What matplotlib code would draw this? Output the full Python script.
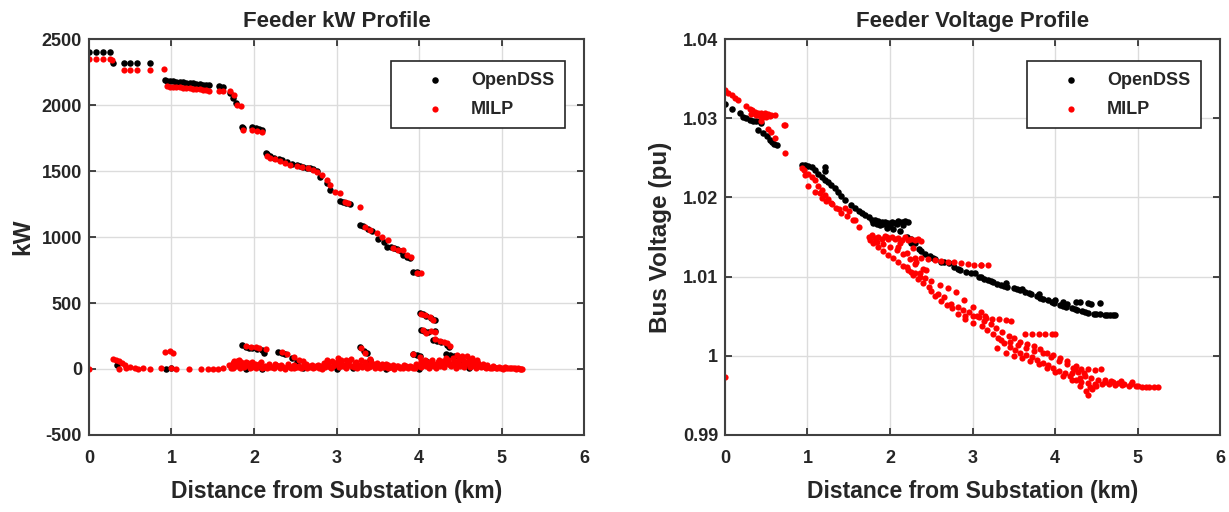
import matplotlib
matplotlib.use("Agg")
import matplotlib.pyplot as plt

plt.rcParams['font.family'] = ['Liberation Sans', 'DejaVu Sans']
plt.rcParams['font.weight'] = 'bold'

# ---- Feeder kW profile ----
kw_dss_x = [0.0, 0.09, 0.17, 0.25, 0.29, 0.42, 0.50, 0.58, 0.74,
            0.92, 0.95, 0.98, 1.02, 1.06, 1.10, 1.14, 1.18, 1.22, 1.26, 1.30, 1.34, 1.38, 1.42, 1.46,
            1.58, 1.62, 1.71, 1.75, 1.78, 1.85, 1.87, 1.98, 2.02, 2.06, 2.10,
            2.14, 2.16, 2.19, 2.24, 2.30, 2.34, 2.40, 2.46, 2.52, 2.56, 2.60, 2.64, 2.68, 2.72, 2.76,
            2.80, 2.88, 2.92, 3.04, 3.08, 3.12, 3.16, 3.28, 3.32, 3.38, 3.43, 3.50, 3.58,
            3.61, 3.66, 3.70, 3.73, 3.78, 3.81, 3.86, 3.89, 3.93, 3.97, 3.99,
            4.01, 4.05, 4.08, 4.15, 4.19, 4.03, 4.06, 4.11, 4.19, 4.17, 4.22, 4.27, 4.34, 4.36,
            4.33, 4.37, 4.42, 3.28, 3.33, 3.37, 3.41, 3.93, 3.97, 4.01, 4.09,
            1.85, 1.90, 1.94, 1.98, 2.04, 2.10, 2.12, 2.29, 2.34, 2.38, 2.46, 2.52,
            0.34, 0.93, 1.00, 1.90, 2.10, 2.60, 3.00, 3.20, 3.60, 4.00, 4.30, 4.50, 4.60]
kw_dss_y = [2405, 2405, 2405, 2405, 2320, 2322, 2322, 2322, 2318,
            2190, 2185, 2183, 2180, 2178, 2175, 2172, 2170, 2168, 2165, 2160, 2158, 2155, 2152, 2150,
            2142, 2140, 2090, 2052, 2018, 1832, 1828, 1832, 1826, 1822, 1812,
            1634, 1626, 1612, 1600, 1588, 1582, 1566, 1552, 1545, 1535, 1530, 1526, 1520, 1514, 1502,
            1455, 1410, 1358, 1276, 1268, 1260, 1250, 1092, 1082, 1060, 1045, 985, 960,
            924, 924, 920, 908, 895, 865, 850, 840, 738, 733, 730,
            426, 418, 405, 385, 370, 296, 290, 280, 286, 222, 214, 205, 184, 170,
            115, 108, 95, 165, 140, 120, 70, 115, 105, 95, 62,
            180, 165, 162, 160, 152, 145, 122, 130, 118, 112, 86, 55,
            30, 2, 5, 2, 2, 5, 3, 10, 3, 2, 30, 40, 5]

kw_milp_x = [0.0, 0.09, 0.17, 0.25, 0.28, 0.42, 0.50, 0.58, 0.74, 0.91,
             0.95, 0.98, 1.02, 1.06, 1.10, 1.14, 1.18, 1.22, 1.26, 1.30, 1.34, 1.38, 1.42, 1.46,
             1.58, 1.62, 1.71, 1.76, 1.79, 1.84, 1.87, 1.98, 2.04, 2.10,
             2.16, 2.20, 2.26, 2.32, 2.38, 2.44, 2.52, 2.58, 2.66, 2.72, 2.76, 2.82, 2.88, 2.92,
             2.98, 3.04, 3.10, 3.14, 3.28, 3.35, 3.41, 3.49, 3.55, 3.63, 3.68, 3.74, 3.80, 3.85,
             3.90, 3.97, 4.03, 4.03, 4.07, 4.13, 4.17, 4.05, 4.09, 4.15, 4.19,
             4.19, 4.25, 4.30, 4.34, 4.37, 3.30, 3.35, 3.40, 3.93, 4.01, 4.07, 4.12,
             0.92, 0.98, 1.02, 1.90, 1.96, 2.02, 2.06, 2.14, 2.34, 2.40, 2.48, 2.55, 2.60,
             0.0, 0.29, 0.33, 0.36, 0.40, 0.44, 0.50, 0.36, 0.45, 0.56, 0.60, 0.66, 0.74, 0.87,
             0.99, 1.05, 1.21, 1.36, 1.44, 1.50, 1.56, 1.62, 1.70, 1.76, 1.82, 1.90, 1.98,
             4.46, 4.52, 4.58, 4.64, 4.70]
kw_milp_y = [2345, 2345, 2345, 2345, 2338, 2268, 2268, 2268, 2265, 2272,
             2142, 2140, 2138, 2136, 2134, 2130, 2128, 2126, 2124, 2120, 2118, 2115, 2112, 2108,
             2108, 2104, 2105, 2075, 2000, 1992, 1812, 1812, 1806, 1795,
             1610, 1598, 1588, 1575, 1560, 1548, 1540, 1528, 1520, 1508, 1490, 1470, 1435, 1395,
             1343, 1336, 1262, 1255, 1225, 1078, 1053, 1028, 1000, 980, 918, 905, 900, 860,
             845, 728, 727, 420, 410, 392, 372, 292, 276, 285, 278,
             228, 212, 202, 198, 178, 160, 118, 75, 112, 92, 68, 50,
             131, 133, 123, 175, 170, 166, 158, 150, 125, 115, 92, 70, 60,
             0, 73, 68, 63, 43, 30, 13, 3, 5, 8, 3, 8, 3, 6,
             8, 3, 3, 2, 2, 2, 2, 4, 30, 63, 68, 55, 55,
             105, 100, 95, 85, 70]

# low-power buses (laterals) for MILP, 1.7-5.25 km
kw_milp_low_x = [1.72, 1.75, 1.78, 1.80, 1.83, 1.86, 1.88, 1.92, 1.95, 2.00, 2.03, 2.06, 2.10, 2.13,
                 2.16, 2.20, 2.24, 2.27, 2.31, 2.35, 2.38, 2.42, 2.45, 2.49, 2.53, 2.57, 2.61, 2.64,
                 2.68, 2.72, 2.75, 2.79, 2.83, 2.86, 2.90, 2.93, 2.96, 3.00, 3.03, 3.06, 3.09, 3.12,
                 3.15, 3.18, 3.22, 3.25, 3.28, 3.31, 3.34, 3.37, 3.40, 3.44, 3.47, 3.50, 3.53, 3.56,
                 3.60, 3.63, 3.66, 3.70, 3.73, 3.77, 3.80, 3.84, 3.87, 3.91, 3.95, 3.98, 4.02, 4.05,
                 4.08, 4.12, 4.15, 4.18, 4.21, 4.24, 4.27, 4.30, 4.33, 4.36, 4.39, 4.42, 4.45, 4.48,
                 4.51, 4.54, 4.57, 4.60, 4.63, 4.66, 4.69, 4.72, 4.75, 4.78, 4.81, 4.84, 4.88, 4.91,
                 4.95, 4.98, 5.02, 5.06, 5.10, 5.14, 5.18, 5.22, 5.25,
                 1.74, 1.79, 1.84, 1.89, 1.93, 1.97, 2.01, 2.05, 2.09, 2.12, 2.18, 2.22, 2.26, 2.29,
                 2.33, 2.37, 2.41, 2.44, 2.48, 2.51, 2.55, 2.59, 2.63, 2.67, 2.70, 2.74, 2.78, 2.81,
                 2.85, 2.89, 2.92, 2.95, 2.99, 3.02, 3.05, 3.08, 3.11, 3.14, 3.17, 3.21, 3.24, 3.27,
                 3.30, 3.33, 3.36, 3.39, 3.42, 3.46, 3.49, 3.52, 3.55, 3.58, 3.62, 3.65, 3.68, 3.71,
                 3.75, 3.79, 3.82, 3.86, 3.89, 3.93, 3.96, 4.00, 4.03, 4.06, 4.10, 4.13, 4.16, 4.20,
                 4.23, 4.26, 4.29, 4.32, 4.35, 4.38, 4.41, 4.44, 4.47, 4.50, 4.53, 4.56, 4.59, 4.62,
                 4.65, 4.68, 4.71, 4.74, 4.77, 4.80, 4.83, 4.86, 4.90, 4.93, 4.97, 5.00, 5.04, 5.08,
                 5.12, 5.16, 5.20, 5.24]
kw_milp_low_y = [10, 5, 20, 40, 8, 25, 12, 30, 8, 20, 5, 35, 10, 25,
                 4, 18, 6, 28, 8, 15, 3, 22, 10, 5, 18, 8, 30, 4,
                 12, 6, 22, 9, 3, 18, 40, 8, 25, 55, 12, 70, 30, 5,
                 60, 20, 45, 8, 30, 12, 50, 6, 25, 40, 10, 30, 5, 20,
                 35, 8, 15, 3, 25, 10, 5, 20, 8, 15, 4, 28, 12, 40,
                 20, 8, 55, 25, 10, 70, 35, 15, 80, 45, 20, 60, 8, 75,
                 30, 12, 50, 70, 25, 40, 10, 30, 15, 22, 8, 18, 5, 12,
                 6, 10, 3, 8, 4, 6, 2, 3, 2,
                 45, 60, 50, 35, 48, 15, 40, 22, 50, 14, 35, 12, 40, 20,
                 32, 10, 36, 18, 30, 12, 26, 16, 40, 22, 34, 14, 32, 20,
                 45, 65, 18, 60, 35, 80, 45, 20, 65, 38, 72, 15, 55, 22,
                 65, 28, 40, 15, 55, 22, 45, 15, 38, 12, 28, 18, 32, 12,
                 22, 15, 30, 18, 25, 10, 35, 20, 60, 30, 45, 25, 65, 40,
                 55, 20, 60, 35, 65, 30, 80, 40, 55, 20, 65, 35, 45, 15,
                 55, 25, 45, 20, 35, 15, 28, 10, 22, 8, 16, 6, 12, 5,
                 9, 4, 6, 1]

# ---- Feeder voltage profile ----
v_dss_x = [0.0, 0.08, 0.18, 0.22, 0.26, 0.30, 0.34, 0.38, 0.42, 0.44, 0.40, 0.46, 0.51, 0.54, 0.57, 0.60, 0.63,
           0.93, 0.97, 1.01, 1.05, 1.09, 1.21, 1.21, 1.13, 1.17, 1.21, 1.25, 1.29, 1.33, 1.37, 1.41, 1.45,
           1.53, 1.58, 1.62, 1.66, 1.70, 1.74, 1.78, 1.82, 1.86, 1.90, 1.94, 1.98, 2.02, 2.06, 2.10, 2.14,
           2.18, 2.22, 1.88, 1.96, 2.04, 2.12, 2.20, 2.25, 2.30, 2.35, 2.42, 2.48, 2.55, 2.62, 2.71, 2.78,
           2.85, 2.92, 3.03, 3.08, 3.14, 3.19, 3.25, 3.30, 3.35, 3.42, 3.50, 3.57, 3.64, 3.71, 3.78, 3.85,
           3.92, 3.99, 4.06, 4.13, 4.20, 4.27, 4.33, 4.40, 4.47, 4.54, 4.60, 4.67, 4.73,
           4.30, 4.40, 4.54, 4.15, 4.00, 3.80, 3.60, 3.40,
           1.80, 1.84, 1.92, 2.00, 2.08, 2.16, 2.26, 2.38, 2.52, 2.66, 2.82, 2.98, 3.10, 3.22,
           3.38, 3.54, 3.68, 3.82, 3.96, 4.10, 4.24, 4.36, 4.50, 4.63, 4.70, 4.44, 4.25, 4.10]
v_dss_y = [1.0318, 1.0312, 1.0306, 1.0302, 1.0300, 1.0298, 1.0297, 1.0297, 1.0296, 1.0294, 1.0285, 1.0281,
           1.0277, 1.0273, 1.0270, 1.0268, 1.0266,
           1.0241, 1.0241, 1.0240, 1.0238, 1.0235, 1.0239, 1.0233, 1.0230, 1.0226, 1.0222, 1.0220, 1.0216,
           1.0212, 1.0207, 1.0202, 1.0197,
           1.0190, 1.0186, 1.0183, 1.0180, 1.0178, 1.0175, 1.0172, 1.0171, 1.0170, 1.0169, 1.0169, 1.0168,
           1.0169, 1.0168, 1.0170, 1.0169, 1.0170, 1.0169, 1.0165, 1.0162, 1.0160, 1.0158, 1.0150, 1.0148,
           1.0142, 1.0135, 1.0129, 1.0126, 1.0122, 1.0119, 1.0117, 1.0112, 1.0108, 1.0106, 1.0104, 1.0100,
           1.0097, 1.0096, 1.0093, 1.0091, 1.0089, 1.0087, 1.0085, 1.0083, 1.0081, 1.0078, 1.0075, 1.0072,
           1.0070, 1.0067, 1.0064, 1.0062, 1.0060, 1.0058, 1.0056, 1.0054, 1.0053, 1.0053, 1.0052, 1.0052,
           1.0051, 1.0068, 1.0067, 1.0067, 1.0066, 1.0071, 1.0078, 1.0084, 1.0092,
           1.0168, 1.0166, 1.0166, 1.0164, 1.0166, 1.0165, 1.0142, 1.0132, 1.0124, 1.0118, 1.0110, 1.0104,
           1.0099, 1.0094, 1.0088, 1.0084, 1.0079, 1.0073, 1.0068, 1.0063, 1.0059, 1.0055, 1.0053, 1.0052,
           1.0051, 1.0066, 1.0068, 1.0068]

v_milp_x = [0.0, 0.0, 0.04, 0.08, 0.12, 0.16, 0.26, 0.30, 0.33, 0.36, 0.40, 0.44, 0.48, 0.52, 0.56,
            0.32, 0.38, 0.42, 0.46, 0.50, 0.54, 0.61, 0.71, 0.73, 0.44, 0.52, 0.56, 0.61, 0.73,
            0.93, 0.96, 1.01, 1.05, 1.09, 1.13, 1.17, 1.21, 1.25, 1.29, 1.35, 1.41, 1.48, 1.55, 1.58,
            1.62, 0.97, 1.01, 1.09, 1.17, 1.30, 1.45, 1.50,
            1.74, 1.78, 1.82, 1.86, 1.90, 1.94, 1.98, 2.02, 2.06, 2.10, 2.14, 2.18, 2.22, 2.26, 2.30,
            2.34, 2.38,
            1.80, 1.86, 1.92, 1.98, 2.04, 2.10, 2.16, 2.22, 2.28, 2.34, 2.40, 2.47, 2.55, 2.62, 2.69,
            2.75, 2.83, 2.91, 3.00, 3.11, 3.18, 3.25, 3.31, 3.38, 3.45, 3.52, 3.58, 3.65, 3.72, 3.78,
            3.85, 3.92, 3.98, 4.05, 4.12, 4.18, 4.25, 4.32, 4.40, 4.48, 4.57, 4.65, 4.73, 4.81, 4.90,
            4.98, 5.06, 5.14, 5.25,
            2.30, 2.38, 2.46, 2.54, 2.62, 2.70, 2.78, 2.86, 2.94, 3.02, 3.10, 3.19,
            2.30, 2.36, 2.42, 2.50, 2.44,
            2.91, 3.00, 3.08, 3.16, 3.24, 3.32, 3.40, 3.47,
            3.64, 3.72, 3.80, 3.88, 3.96, 4.00,
            4.24, 4.32, 4.40, 4.48, 4.56, 4.40, 4.38, 4.60, 4.70, 4.80, 4.93,
            3.30, 3.40, 3.50, 3.60, 3.70, 3.80, 3.90, 4.00, 4.10, 4.20, 4.30, 4.45,
            3.35, 3.45, 3.55, 3.65, 3.75, 3.85, 3.95, 4.05, 4.15, 4.25, 4.35,
            2.10, 2.20, 2.30, 2.40, 2.60, 2.70, 2.80, 2.90, 3.00, 3.10,
            1.76, 1.84, 1.92, 2.00, 2.08, 2.16, 2.24, 2.32, 1.96, 2.12, 2.28, 2.20, 2.26, 2.36,
            2.50, 2.58, 2.66, 2.74, 2.82, 2.88, 2.96, 3.05, 3.14, 3.22, 3.28, 3.36, 3.44, 3.50,
            3.58, 3.66, 3.74, 3.82, 3.90, 3.98, 4.06, 4.14, 4.22, 4.28, 4.36, 4.44, 4.52, 4.60,
            4.68, 4.76, 4.84, 4.92, 5.00, 5.10, 5.20, 4.42, 4.50, 4.30, 4.20, 3.10, 3.15, 1.15,
            1.22, 1.38]
v_milp_y = [0.9973, 1.0336, 1.0332, 1.0329, 1.0326, 1.0323, 1.0315, 1.0312, 1.0310, 1.0308, 1.0307, 1.0306,
            1.0306, 1.0305, 1.0304, 1.0305, 1.0304, 1.0303, 1.0302, 1.0302, 1.0303, 1.0304, 1.0292, 1.0291,
            1.0296, 1.0287, 1.0282, 1.0275, 1.0256,
            1.0237, 1.0234, 1.0230, 1.0226, 1.0222, 1.0215, 1.0209, 1.0203, 1.0198, 1.0193, 1.0186, 1.0180,
            1.0176, 1.0172, 1.0171, 1.0163, 1.0228, 1.0214, 1.0207, 1.0199, 1.0192, 1.0186, 1.0183,
            1.0150, 1.0152, 1.0149, 1.0150, 1.0147, 1.0151, 1.0148, 1.0150, 1.0147, 1.0149, 1.0146, 1.0150,
            1.0146, 1.0148, 1.0146, 1.0147, 1.0145,
            1.0142, 1.0138, 1.0132, 1.0127, 1.0123, 1.0118, 1.0113, 1.0108, 1.0102, 1.0097, 1.0092, 1.0087,
            1.0075, 1.0069, 1.0064, 1.0060, 1.0053, 1.0047, 1.0042, 1.0037, 1.0033, 1.0027, 1.0022, 1.0016,
            1.0011, 1.0007, 1.0004, 1.0001, 0.9999, 0.9995, 0.9991, 0.9988, 0.9985, 0.9981, 0.9978, 0.9974,
            0.9970, 0.9967, 0.9966, 0.9965, 0.9965, 0.9964, 0.9963, 0.9963, 0.9962, 0.9962, 0.9961, 0.9961,
            0.9961,
            1.0124, 1.0123, 1.0122, 1.0121, 1.0120, 1.0119, 1.0118, 1.0117, 1.0116, 1.0115, 1.0115, 1.0115,
            1.0104, 1.0100, 1.0098, 1.0094, 1.0108,
            1.0050, 1.0050, 1.0049, 1.0048, 1.0047, 1.0046, 1.0045, 1.0044,
            1.0027, 1.0027, 1.0027, 1.0027, 1.0027, 1.0027,
            0.9983, 0.9983, 0.9983, 0.9982, 0.9983, 0.9950, 0.9955, 0.9967, 0.9967, 0.9968, 0.9967,
            1.0010, 1.0004, 1.0000, 0.9997, 0.9993, 0.9990, 0.9985, 0.9980, 0.9975, 0.9970, 0.9962, 0.9958,
            1.0020, 1.0018, 1.0014, 1.0010, 1.0006, 1.0003, 0.9998, 0.9993, 0.9990, 0.9987, 0.9978,
            1.0138, 1.0130, 1.0116, 1.0110, 1.0090, 1.0085, 1.0080, 1.0070, 1.0062, 1.0055,
            1.0146, 1.0144, 1.0141, 1.0138, 1.0134, 1.0128, 1.0122, 1.0118, 1.0150, 1.0142, 1.0136, 1.0112,
            1.0106, 1.0104, 1.0082, 1.0078, 1.0074, 1.0066, 1.0062, 1.0058, 1.0055, 1.0050, 1.0044, 1.0040,
            1.0035, 1.0030, 1.0025, 1.0022, 1.0018, 1.0015, 1.0012, 1.0008, 1.0004, 1.0001, 0.9997, 0.9993,
            0.9985, 0.9980, 0.9975, 0.9972, 0.9970, 0.9969, 0.9968, 0.9966, 0.9965, 0.9964, 0.9962, 0.9961,
            0.9961, 0.9960, 0.9962, 0.9972, 0.9978, 1.0115, 1.0050, 1.0205, 1.0196, 1.0185]

TXT = '#262626'


def style_axes(ax, title, ylabel, ylim, yticks, yticklabels, ylabelpad):
    ax.set_xlim(0, 6)
    ax.set_ylim(*ylim)
    ax.set_xticks(range(0, 7))
    ax.set_yticks(yticks)
    ax.set_yticklabels(yticklabels)
    ax.grid(True, color='#dcdcdc', linewidth=1.0)
    ax.set_axisbelow(True)
    ax.tick_params(direction='in', top=True, right=True, length=5, width=1.2,
                   labelsize=13, colors=TXT)
    ax.tick_params(axis='x', pad=11)
    ax.tick_params(axis='y', pad=5)
    for lbl in ax.get_xticklabels() + ax.get_yticklabels():
        lbl.set_fontweight('bold')
    for s in ax.spines.values():
        s.set_linewidth(1.5)
        s.set_color('#404040')
    ax.set_title(title, fontsize=16, fontweight='bold', color=TXT, pad=9)
    ax.set_xlabel('Distance from Substation (km)', fontsize=16.5, fontweight='bold', color=TXT, labelpad=9)
    ax.set_ylabel(ylabel, fontsize=17.5, fontweight='bold', color=TXT, labelpad=ylabelpad)
    leg = ax.legend(loc='upper right', bbox_to_anchor=(0.9616, 0.9444), fancybox=False,
                    edgecolor='#262626', framealpha=1, fontsize=13, scatterpoints=1,
                    handletextpad=0.2, borderpad=0.6, labelspacing=0.65, handlelength=3.6,
                    borderaxespad=0)
    leg.get_frame().set_linewidth(1.2)
    for t in leg.get_texts():
        t.set_fontweight('bold')
        t.set_color(TXT)


fig = plt.figure(figsize=(12.29, 5.12), dpi=100)
ax1 = fig.add_axes([0.0724, 0.1504, 0.4028, 0.7734])
ax2 = fig.add_axes([0.5899, 0.1504, 0.4028, 0.7734])

ax1.scatter(kw_dss_x, kw_dss_y, s=22, c='black', linewidths=0, label='OpenDSS')
ax1.scatter(kw_milp_x + kw_milp_low_x, kw_milp_y + kw_milp_low_y, s=20, c='red',
            linewidths=0, label='MILP')
style_axes(ax1, 'Feeder kW Profile', 'kW', (-500, 2500),
           [-500, 0, 500, 1000, 1500, 2000, 2500],
           ['-500', '0', '500', '1000', '1500', '2000', '2500'], 5)

ax2.scatter(v_dss_x, v_dss_y, s=22, c='black', linewidths=0, label='OpenDSS')
ax2.scatter(v_milp_x, v_milp_y, s=20, c='red', linewidths=0, label='MILP')
style_axes(ax2, 'Feeder Voltage Profile', 'Bus Voltage (pu)', (0.99, 1.04),
           [0.99, 1.0, 1.01, 1.02, 1.03, 1.04],
           ['0.99', '1', '1.01', '1.02', '1.03', '1.04'], 8)

fig.savefig('out.png', dpi=100)
